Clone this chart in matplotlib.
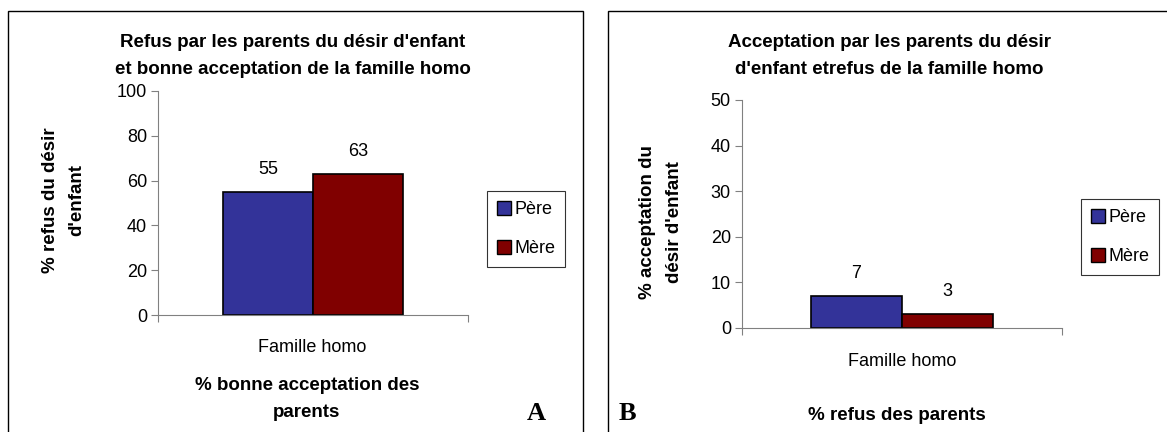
import matplotlib.pyplot as plt
from matplotlib.patches import Rectangle

plt.rcParams['font.family'] = ['Liberation Sans', 'DejaVu Sans']

series = ["Père", "Mère"]
colors = ["#333399", "#800000"]
category = "Famille homo"

vals_a = [55, 63]
vals_b = [7, 3]

W, H = 1167, 432
fig = plt.figure(figsize=(W / 100, H / 100), dpi=100)


def fx(px):
    return px / W


def fy(py):
    return 1 - py / H


# panel frames
fig.patches.append(Rectangle((fx(8), -0.01), fx(575), fy(11) + 0.01,
                             transform=fig.transFigure, fill=False, lw=1, ec="black"))
fig.patches.append(Rectangle((fx(608), -0.01), 0.5, fy(11) + 0.01,
                             transform=fig.transFigure, fill=False, lw=1, ec="black"))


def draw(ax, vals, width, ymax, ystep):
    w = width / 2
    for i, (v, c, s) in enumerate(zip(vals, colors, series)):
        x = -w / 2 + i * w
        ax.bar(x, v, width=w, color=c, edgecolor="black", linewidth=1.2, label=s)
        ax.annotate(str(v), (x, v), xytext=(0, 10), textcoords="offset points",
                    ha="center", va="bottom", fontsize=13)
    ax.set_xlim(-0.5, 0.5)
    ax.set_ylim(0, ymax)
    ax.set_yticks(range(0, ymax + 1, ystep))
    ax.tick_params(axis="y", labelsize=13, length=5, direction="out", pad=3)
    ax.set_xticks([-0.5, 0.5])
    ax.set_xticklabels(["", ""])
    ax.tick_params(axis="x", length=5, direction="out")
    ax.spines["top"].set_visible(False)
    ax.spines["right"].set_visible(False)
    for sp in ("left", "bottom"):
        ax.spines[sp].set_color("#808080")
    ax.tick_params(color="#808080")


def legend(ax, x, y):
    leg = ax.legend(loc="upper left", bbox_to_anchor=(fx(x), fy(y)), bbox_transform=fig.transFigure,
                    fontsize=13, frameon=True, fancybox=False, edgecolor="black", handlelength=0.8,
                    handleheight=0.8, handletextpad=0.15, labelspacing=1.2, borderpad=0.55,
                    borderaxespad=0)
    leg.get_frame().set_linewidth(0.8)
    for p in leg.get_patches():
        p.set_edgecolor("black")
        p.set_linewidth(1)


# panel A
axA = fig.add_axes([fx(158), fy(315), fx(310), fy(91) - fy(315)])
draw(axA, vals_a, 0.58, 100, 20)
fig.text(fx(312), fy(347), category, ha="center", va="center", fontsize=13)
fig.text(fx(293), fy(56), "Refus par les parents du désir d'enfant\net bonne acceptation de la famille homo",
         ha="center", va="center", fontsize=13.5, fontweight="bold", linespacing=1.75)
fig.text(fx(64), fy(200), "% refus du désir\nd'enfant", rotation=90, ha="center", va="center",
         fontsize=13.5, fontweight="bold", linespacing=1.7)
fig.text(fx(307), fy(399), "% bonne acceptation des\nparents", ha="center", va="center",
         fontsize=13.5, fontweight="bold", linespacing=1.75)
fig.text(fx(536), fy(414), "A", ha="center", va="center", fontsize=19, fontweight="bold",
         family="Liberation Serif")
legend(axA, 487, 191)

# panel B
axB = fig.add_axes([fx(742), fy(328), fx(320), fy(100) - fy(328)])
draw(axB, vals_b, 0.57, 50, 10)
fig.text(fx(902), fy(361), category, ha="center", va="center", fontsize=13)
fig.text(fx(889), fy(56), "Acceptation par les parents du désir\nd'enfant etrefus de la famille homo",
         ha="center", va="center", fontsize=13.5, fontweight="bold", linespacing=1.75)
fig.text(fx(661), fy(222), "% acceptation du\ndésir d'enfant", rotation=90, ha="center", va="center",
         fontsize=13.5, fontweight="bold", linespacing=1.7)
fig.text(fx(897), fy(415), "% refus des parents", ha="center", va="center",
         fontsize=13.5, fontweight="bold")
fig.text(fx(627), fy(414), "B", ha="center", va="center", fontsize=19, fontweight="bold",
         family="Liberation Serif")
legend(axB, 1081, 199)

fig.savefig("out.png", dpi=100)
